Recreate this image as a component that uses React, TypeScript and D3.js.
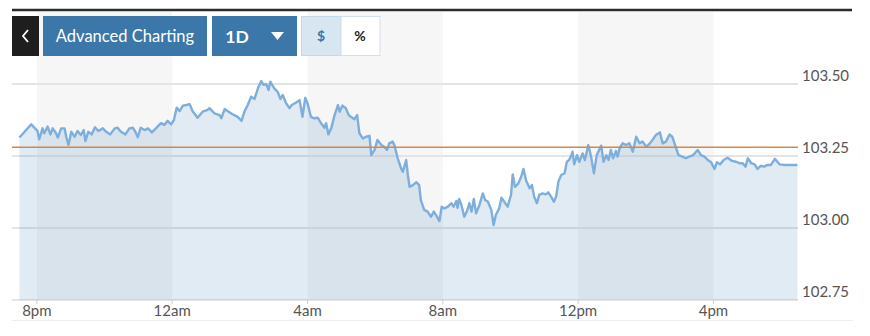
import React from "react";
import * as d3 from "d3";

// minutes relative to 8pm, and price values
const minutes = [-31,-10,1,4,10,13,19,24,28,34,37,43,49,52,56,61,67,72,78,83,86,91,97,103,109,117,123,130,138,143,149,157,164,170,174,179,184,191,197,204,211,220,226,232,238,243,248,253,259,265,271,276,285,294,303,306,315,324,327,333,338,347,356,363,368,374,380,386,392,398,402,407,411,414,421,427,432,436,442,448,452,460,466,471,476,480,486,492,498,504,510,513,517,522,528,534,537,542,548,553,557,563,568,572,578,584,590,593,599,604,611,616,621,625,631,634,640,646,649,655,658,661,667,673,678,681,687,693,699,704,708,714,718,723,729,735,739,744,746,749,753,758,763,767,771,775,779,785,791,795,800,806,810,814,820,824,829,835,841,844,848,854,859,863,868,874,878,882,887,891,897,903,907,912,917,921,925,930,936,940,944,948,950,953,958,962,968,972,978,983,988,993,1001,1005,1010,1014,1018,1022,1027,1030,1034,1039,1045,1051,1057,1063,1069,1074,1081,1086,1092,1098,1105,1110,1116,1122,1127,1132,1138,1145,1151,1157,1164,1172,1178,1184,1190,1196,1202,1206,1212,1218,1225,1233,1240,1246,1252,1257,1261,1267,1273,1278,1284,1290,1296,1302,1309,1317,1326,1349];
const values = [103.314,103.36,103.337,103.308,103.346,103.329,103.352,103.325,103.346,103.329,103.314,103.346,103.346,103.317,103.288,103.334,103.317,103.337,103.323,103.34,103.302,103.334,103.325,103.35,103.337,103.346,103.334,103.325,103.346,103.348,103.334,103.325,103.346,103.348,103.337,103.315,103.348,103.34,103.346,103.332,103.346,103.364,103.358,103.372,103.36,103.375,103.418,103.406,103.425,103.427,103.43,103.406,103.383,103.404,103.41,103.416,103.398,103.392,103.381,103.413,103.406,103.395,103.386,103.372,103.404,103.427,103.456,103.448,103.485,103.51,103.497,103.499,103.479,103.508,103.485,103.473,103.448,103.462,103.433,103.416,103.427,103.436,103.444,103.386,103.452,103.433,103.386,103.381,103.383,103.364,103.348,103.364,103.325,103.346,103.392,103.427,103.404,103.425,103.416,103.392,103.386,103.378,103.392,103.329,103.311,103.317,103.32,103.253,103.271,103.306,103.288,103.282,103.271,103.294,103.3,103.288,103.242,103.207,103.195,103.236,103.184,103.143,103.149,103.159,103.149,103.097,103.063,103.057,103.039,103.057,103.045,103.024,103.074,103.068,103.074,103.086,103.074,103.094,103.07,103.101,103.08,103.039,103.059,103.086,103.057,103.101,103.051,103.08,103.12,103.097,103.091,103.063,103.01,103.045,103.068,103.105,103.091,103.074,103.115,103.186,103.143,103.155,103.178,103.205,103.163,103.138,103.149,103.109,103.086,103.115,103.12,103.117,103.124,103.109,103.091,103.109,103.161,103.184,103.19,103.23,103.236,103.253,103.265,103.221,103.253,103.23,103.259,103.236,103.288,103.248,103.19,103.253,103.286,103.23,103.253,103.236,103.271,103.242,103.267,103.248,103.279,103.294,103.288,103.294,103.265,103.317,103.294,103.3,103.282,103.291,103.306,103.323,103.332,103.294,103.3,103.325,103.317,103.288,103.253,103.248,103.242,103.248,103.253,103.271,103.253,103.248,103.236,103.228,103.205,103.228,103.221,103.236,103.244,103.233,103.23,103.225,103.225,103.213,103.242,103.225,103.221,103.205,103.216,103.213,103.219,103.219,103.24,103.221,103.219,103.219];

const yTicks = [102.75, 103.0, 103.25, 103.5];
const previousClose = 103.28;
const startMinutes = -30;
const endMinutes = 1350;

const base = new Date(2019, 0, 1, 20, 0, 0);
const toDate = (m: number) => new Date(base.getTime() + m * 60000);

export default function App() {
  const W = 870;
  const H = 336;
  const x = d3.scaleTime().domain([toDate(startMinutes), toDate(endMinutes)]).range([20, 798]);
  const y = d3.scaleLinear().domain([102.75, 103.5]).range([300, 84]);
  const data = minutes.map((m, i) => ({ t: toDate(m), v: values[i] }));
  const line = d3.line<{ t: Date; v: number }>().x((d) => x(d.t)).y((d) => y(d.v));
  const area = d3
    .area<{ t: Date; v: number }>()
    .x((d) => x(d.t))
    .y0(y(102.75))
    .y1((d) => y(d.v));
  const xTicks = d3.timeHour.every(4)!.range(toDate(-1), toDate(endMinutes));
  const fmt = (d: Date) => {
    const h = d.getHours();
    const hh = h % 12 === 0 ? 12 : h % 12;
    return `${hh}${h < 12 ? "am" : "pm"}`;
  };
  const bandStarts = xTicks.filter((_, i) => i % 2 === 0);
  const font = "Lato, 'Open Sans', sans-serif";

  return (
    <svg width={W} height={H} style={{ position: "absolute", left: 0, top: 0 }} fontFamily={font}>
      <rect x={0} y={0} width={W} height={H} fill="#fff" />
      {/* alternating bands */}
      {bandStarts.map((d, i) => (
        <rect
          key={i}
          x={x(d)}
          y={12}
          width={x(d3.timeHour.offset(d, 4)) - x(d)}
          height={300 - 12}
          fill="#f6f6f6"
        />
      ))}
      {/* gridlines */}
      {yTicks.map((t) => (
        <line key={t} x1={12} x2={798} y1={y(t)} y2={y(t)} stroke="#e4e4e4" strokeWidth={2} />
      ))}
      <path d={area(data) || ""} fill="#4f88c0" fillOpacity={0.17} />
      <path d={line(data) || ""} fill="none" stroke="#7eaedb" strokeWidth={2.4} strokeLinejoin="round" />
      <line x1={12} x2={798} y1={y(previousClose)} y2={y(previousClose)} stroke="#d2874c" strokeWidth={1.5} />
      {/* y labels */}
      {yTicks.map((t) => (
        <text key={t} x={802} y={y(t) - 3.5} fontSize={15} fill="#555">
          {t.toFixed(2)}
        </text>
      ))}
      {/* x axis */}
      <line x1={12} x2={798} y1={300.5} y2={300.5} stroke="#e6e6e6" strokeWidth={1} />
      {xTicks.map((d, i) => (
        <g key={i}>
          <line x1={x(d)} x2={x(d)} y1={300} y2={304} stroke="#cfcfcf" />
          <text x={x(d)} y={316} fontSize={15} fill="#555" textAnchor="middle">
            {fmt(d)}
          </text>
        </g>
      ))}
      <line x1={12} x2={853} y1={320.5} y2={320.5} stroke="#eeeeee" strokeWidth={1} />
      {/* top bar */}
      <line x1={12} x2={852} y1={10} y2={10} stroke="#2c2c2c" strokeWidth={2.5} />
      {/* buttons */}
      <rect x={12} y={16} width={27} height={40} fill="#1e1e1e" />
      <path d="M28,30 L23,36 L28,42" fill="none" stroke="#fff" strokeWidth={1.8} />
      <rect x={43} y={16} width={164} height={40} fill="#3b77a8" />
      <text x={125} y={42} fontSize={16.5} fill="#fff" textAnchor="middle">
        Advanced Charting
      </text>
      <rect x={212} y={16} width={85} height={40} fill="#3b77a8" />
      <text x={237} y={42.5} fontSize={17.5} fill="#fff" textAnchor="middle" fontWeight={700}>
        1D
      </text>
      <path d="M271,32 L284,32 L277.5,40 Z" fill="#fff" />
      <rect x={301.5} y={16.5} width={39.5} height={39} fill="#d8e6f2" stroke="#c6d8e8" />
      <text x={321} y={41} fontSize={14} fill="#3b77a8" textAnchor="middle" fontWeight={700}>
        $
      </text>
      <rect x={341} y={16.5} width={39} height={39} fill="#fff" stroke="#d3e0eb" />
      <text x={360} y={41} fontSize={14} fill="#222" textAnchor="middle" fontWeight={700}>
        %
      </text>
    </svg>
  );
}
